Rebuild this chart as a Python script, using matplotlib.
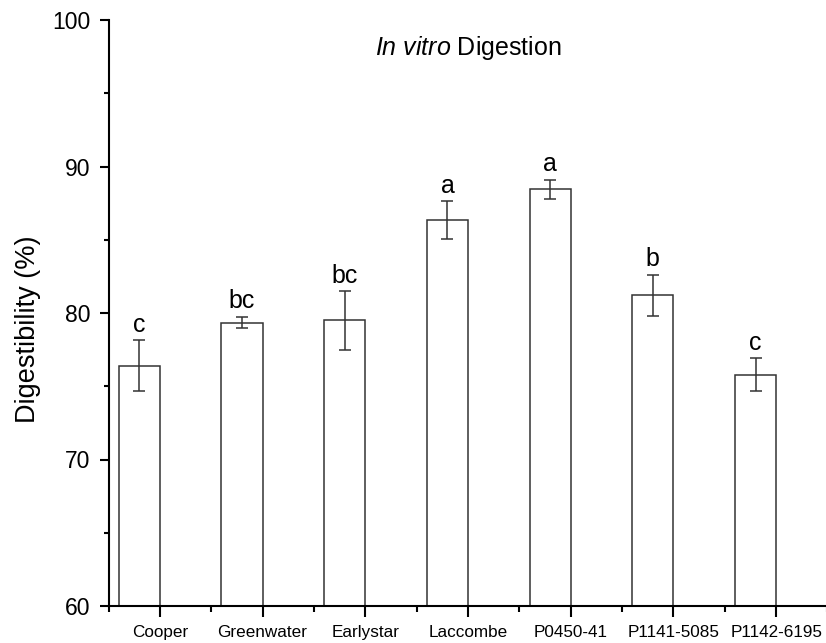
import matplotlib
matplotlib.use("Agg")
import matplotlib.pyplot as plt
from matplotlib.ticker import MultipleLocator, FixedLocator

plt.rcParams['font.family'] = ['Liberation Sans', 'DejaVu Sans']
plt.rcParams['mathtext.fontset'] = 'custom'
plt.rcParams['mathtext.rm'] = 'Liberation Sans'
plt.rcParams['mathtext.it'] = 'Liberation Sans:italic'

cultivars = ["Cooper", "Greenwater", "Earlystar", "Laccombe",
             "P0450-41", "P1141-5085", "P1142-6195"]
digestibility = [76.4, 79.35, 79.5, 86.35, 88.45, 81.2, 75.8]
std_err = [1.73, 0.38, 2.0, 1.27, 0.66, 1.4, 1.1]
groups = ["c", "bc", "bc", "a", "a", "b", "c"]

fig = plt.figure(figsize=(8.26, 6.43), dpi=100)
ax = fig.add_axes([108.5 / 826, 1 - 606 / 643, (827.5 - 108.5) / 826, (606 - 20) / 643])

pos = list(range(1, len(cultivars) + 1))
bar_x = [p - 0.2 for p in pos]
ax.bar(bar_x, [v - 60 for v in digestibility], bottom=60, width=0.4,
       facecolor="white", edgecolor="#333333", linewidth=1.1, zorder=2)
ax.errorbar(bar_x, digestibility, yerr=std_err, fmt="none", ecolor="#333333",
            elinewidth=1.1, capsize=4, capthick=1.1, zorder=3)

for x, v, e, g in zip(bar_x, digestibility, std_err, groups):
    ax.annotate(g, (x, v + e), xytext=(0, 2.5), textcoords="offset points",
                ha="center", va="bottom", fontsize=18)

ax.set_xlim(0.5, 7.5)
ax.set_ylim(60, 100)
ax.xaxis.set_major_locator(FixedLocator(pos))
ax.set_xticklabels(cultivars, fontsize=12.3)
ax.xaxis.set_minor_locator(FixedLocator([p - 0.5 for p in pos] + [7.5]))
ax.yaxis.set_major_locator(MultipleLocator(10))
ax.yaxis.set_minor_locator(MultipleLocator(5))
ax.tick_params(axis="y", which="major", labelsize=16.5, length=6.5, width=1.5, pad=6.5)
ax.tick_params(axis="y", which="minor", length=3.5, width=1.5)
ax.tick_params(axis="x", which="major", length=8, width=1.5, pad=5.5)
ax.tick_params(axis="x", which="minor", length=4, width=1.5)

for s in ("top", "right"):
    ax.spines[s].set_visible(False)
for s in ("left", "bottom"):
    ax.spines[s].set_linewidth(1.5)

ax.set_ylabel("Digestibility (%)", fontsize=19.5)
ax.yaxis.set_label_coords(-0.094, 0.472)
ax.text(0.5, 0.953, r"$\it{In\ vitro}$ Digestion", transform=ax.transAxes,
        ha="center", va="center", fontsize=18)

fig.savefig("out.png", dpi=100)
